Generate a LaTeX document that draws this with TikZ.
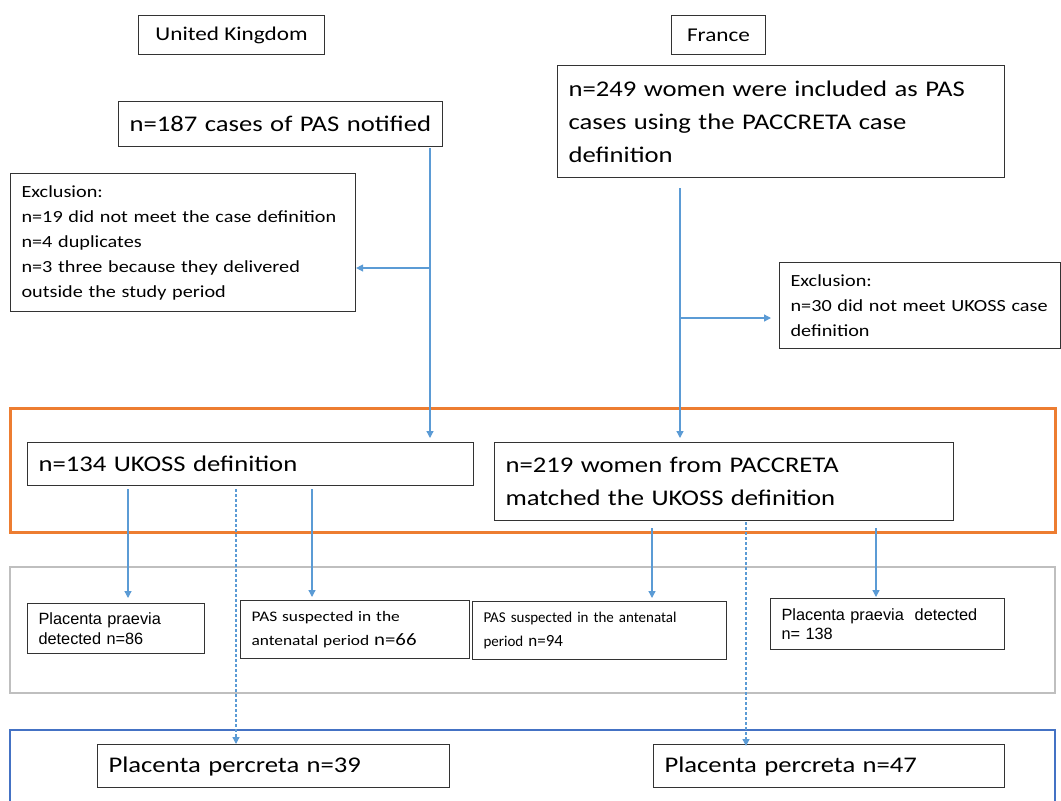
\documentclass[tikz,border=0pt]{standalone}
\usepackage{fontspec}
\setmainfont{Carlito}[FakeStretch=1.19]
\newfontfamily\plaincal{Carlito}
\newfontfamily\arialf{Liberation Sans}
\usetikzlibrary{arrows.meta}
\definecolor{arrblue}{HTML}{5B9BD5}
\definecolor{orframe}{HTML}{ED7D31}
\definecolor{blframe}{HTML}{4472C4}
\definecolor{grframe}{HTML}{BFBFBF}
\begin{document}
\begin{tikzpicture}[x=1pt,y=-1pt,
  box/.style={draw=black!80, line width=1.1pt, anchor=north west, align=left, inner xsep=11pt, inner ysep=0pt, font=\fontsize{22.4}{33}\selectfont},
  hdr/.style={draw=black!80, line width=1.1pt, anchor=north west, align=center, inner sep=0pt, font=\fontsize{19.5}{23}\selectfont},
  small/.style={box, font=\fontsize{17}{25}\selectfont},
  ariall/.style={box, font=\arialf\fontsize{16.3}{19.5}\selectfont},
  arr/.style={draw=arrblue, line width=1.3pt, -{Triangle[width=7pt,length=7pt]}},
  dsh/.style={arr, dash pattern=on 3pt off 2pt}]
\clip (0,0) rectangle (1061,801);
\fill[white] (0,0) rectangle (1061,801);

% frames
\draw[orframe, line width=3pt] (10,408) rectangle (1055,532);
\draw[grframe, line width=1.5pt] (10,567) rectangle (1055,693);
\draw[blframe, line width=1.5pt] (10,730) rectangle (1055,820);

% headers
\node[hdr, minimum width=186pt, minimum height=39pt] (uk) at (138,15) {United Kingdom};
\node[hdr, minimum width=94pt, minimum height=39pt] (fr) at (671,15) {France};

% top boxes
\node[box, text width=302pt, minimum height=45pt] (n187) at (118,101) {n=187 cases of PAS notified};
\node[box, text width=425pt, minimum height=112pt] (n249) at (557,65) {n=249 women were included as PAS\\cases using the PACCRETA case\\definition};

% exclusions
\node[small, text width=323pt, minimum height=138pt] (exclL) at (10,173) {Exclusion:\\n=19 did not meet the case definition\\n=4 duplicates\\n=3 three because they delivered\\outside the study period};
\node[small, text width=259pt, minimum height=86pt] (exclR) at (779,262) {Exclusion:\\n=30 did not meet UKOSS case\\definition};

% middle
\node[box, text width=424pt, minimum height=43pt] (ukoss) at (27,442) {n=134 UKOSS definition};
\node[box, text width=437pt, minimum height=78pt] (pacc) at (494,442) {n=219 women from PACCRETA\\matched the UKOSS definition};

% detection row
\node[ariall, text width=155pt, minimum height=50pt] (pp86) at (27,603) {Placenta praevia\\detected n=86};
\node[box, text width=207pt, minimum height=58pt, font=\fontsize{14.6}{24}\selectfont] (pas66) at (240,600) {PAS suspected in the\\antenatal period {\fontsize{17.5}{24}\selectfont n=66}};
\node[box, text width=232pt, minimum height=58pt, font=\plaincal\fontsize{15}{23.5}\selectfont] (pas94) at (472,601) {PAS suspected in the antenatal\\period {\fontsize{17}{23.5}\selectfont n=94}};
\node[ariall, text width=212pt, minimum height=51pt] (pp138) at (770,598) {Placenta praevia\ \ detected\\n= 138};

% percreta
\node[box, text width=330pt, minimum height=43pt] (perc39) at (97,744) {Placenta percreta n=39};
\node[box, text width=329pt, minimum height=43pt] (perc47) at (653,744) {Placenta percreta n=47};

% coordinates for connector columns
\coordinate (ukx) at (430,0);
\coordinate (ukb) at (430,268);
\coordinate (frx) at (680,0);
\coordinate (frb) at (680,318);
\coordinate (c1) at (128,0);
\coordinate (c2) at (236,0);
\coordinate (c3) at (312,0);
\coordinate (c4) at (652,0);
\coordinate (c5) at (746,0);
\coordinate (c6) at (876,0);

% connectors
\draw[arr, shorten >=4pt] ([yshift=-1pt]n187.south -| ukx) -- (ukoss.north -| ukx);
\draw[arr] (ukb) -- (exclL.east |- ukb);
\draw[arr, shorten >=4pt] ([yshift=-10pt]n249.south -| frx) -- (pacc.north -| frx);
\draw[arr, shorten >=8pt] (frb) -- (exclR.west |- frb);

\draw[arr, shorten >=5pt] ([yshift=-3pt]ukoss.south -| c1) -- (pp86.north -| c1);
\draw[arr, shorten >=3pt] ([yshift=-3pt]ukoss.south -| c3) -- (pas66.north -| c3);
\draw[dsh] ([yshift=-3pt]ukoss.south -| c2) -- (perc39.north -| c2);
\draw[arr, shorten >=3pt] ([yshift=-7pt]pacc.south -| c4) -- (pas94.north -| c4);
\draw[arr, shorten >=1pt] ([yshift=-7pt]pacc.south -| c6) -- (pp138.north -| c6);
\draw[dsh] ([yshift=-1pt]pacc.south -| c5) -- ([yshift=-2pt]perc47.north -| c5);
\end{tikzpicture}
\end{document}
